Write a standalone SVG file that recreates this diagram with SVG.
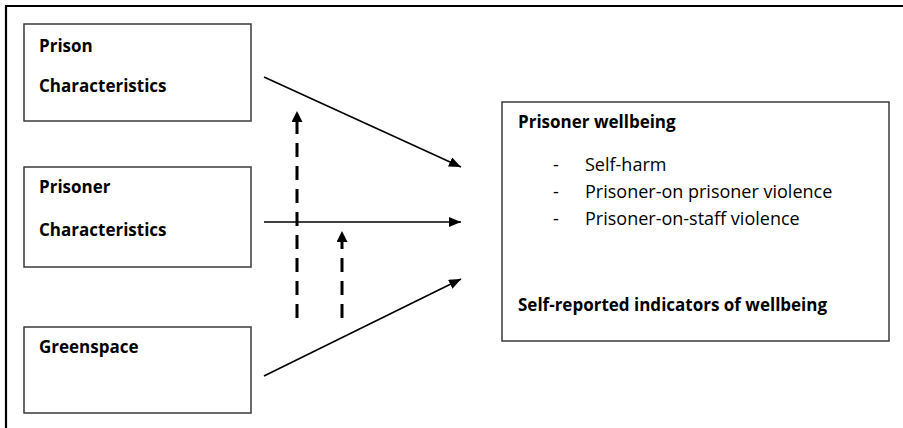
<svg xmlns="http://www.w3.org/2000/svg" width="903" height="428" viewBox="0 0 903 428">
<style>
.box{fill:#fff;stroke:#3a3a3a;stroke-width:1.5}
.b{font-family:"Open Sans","Liberation Sans",sans-serif;font-weight:bold;font-size:17px;fill:#000}
.r{font-family:"Open Sans","Liberation Sans",sans-serif;font-size:18px;fill:#000}
.solid{stroke:#000;stroke-width:1.6;fill:none}
.dash{stroke:#000;stroke-width:3;fill:none;stroke-dasharray:14 9}
</style>
<defs>
<marker id="ah" viewBox="0 0 12 10" refX="12" refY="5" markerWidth="12" markerHeight="10" markerUnits="userSpaceOnUse" orient="auto">
<path d="M0,0 L12,5 L0,10 Z" fill="#000"/>
</marker>
<marker id="ahd" viewBox="0 0 11 11" refX="11" refY="5.5" markerWidth="11" markerHeight="11" markerUnits="userSpaceOnUse" orient="auto">
<path d="M0,0 L11,5.5 L0,11 Z" fill="#000"/>
</marker>
</defs>
<rect width="903" height="428" fill="#fff"/>
<path d="M6,428 V6 H903" fill="none" stroke="#000" stroke-width="2.2"/>
<g id="prison">
<rect class="box" x="24" y="24" width="227" height="97"/>
<text class="b" x="39" y="52">Prison</text>
<text class="b" x="39" y="92">Characteristics</text>
</g>
<g id="prisoner">
<rect class="box" x="24" y="167" width="227" height="100"/>
<text class="b" x="39" y="193">Prisoner</text>
<text class="b" x="39" y="236">Characteristics</text>
</g>
<g id="greenspace">
<rect class="box" x="24" y="327" width="227" height="86"/>
<text class="b" x="39" y="353">Greenspace</text>
</g>
<g id="wellbeing">
<rect class="box" x="502" y="102" width="387" height="239"/>
<text class="b" x="518" y="128">Prisoner wellbeing</text>
<text class="r" x="553" y="171">-</text>
<text class="r" x="585" y="171">Self-harm</text>
<text class="r" x="553" y="198">-</text>
<text class="r" x="585" y="198">Prisoner-on prisoner violence</text>
<text class="r" x="553" y="225">-</text>
<text class="r" x="585" y="225">Prisoner-on-staff violence</text>
<text class="b" x="518" y="311">Self-reported indicators of wellbeing</text>
</g>
<g id="connectors">
<line class="solid" x1="264" y1="77" x2="461" y2="167" marker-end="url(#ah)"/>
<line class="solid" x1="264" y1="222" x2="461" y2="222" marker-end="url(#ah)"/>
<line class="solid" x1="264" y1="376" x2="461" y2="279" marker-end="url(#ah)"/>
<line class="dash" x1="297" y1="318" x2="297" y2="111" marker-end="url(#ahd)"/>
<line class="dash" x1="342" y1="318" x2="342" y2="231" marker-end="url(#ahd)"/>
</g>
</svg>
